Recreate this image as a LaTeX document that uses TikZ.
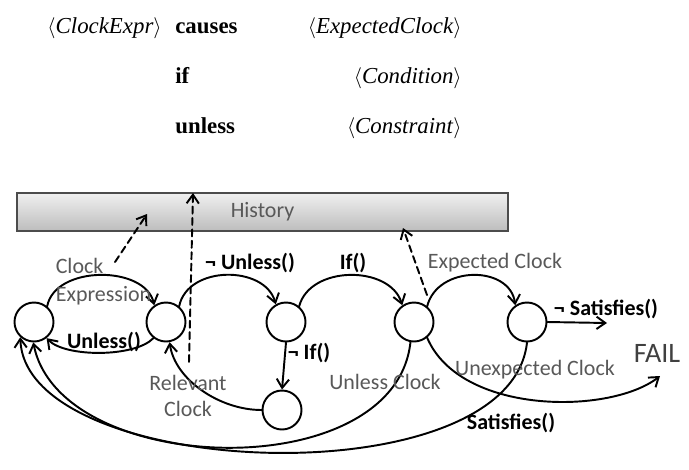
\documentclass[tikz,border=0pt]{standalone}
\usepackage{fontspec}
\setmainfont{Liberation Serif}
\newfontfamily\calib{Carlito}
\usetikzlibrary{arrows.meta}
\definecolor{lblGray}{rgb}{0.35,0.35,0.35}
\definecolor{barTop}{rgb}{0.94,0.94,0.94}
\definecolor{barBot}{rgb}{0.74,0.74,0.74}

\begin{document}
\begin{tikzpicture}[>={Straight Barb[length=5pt,width=7pt]}, line cap=round,
  state/.style={circle, draw, line width=1.1pt, minimum size=0.78cm, inner sep=0pt},
  trans/.style={->, line width=1.1pt},
  tohist/.style={->, line width=1.1pt, dash pattern=on 4pt off 2.5pt},
  lbl/.style={font=\calib\fontsize{12.5}{15}\selectfont, text=lblGray, inner sep=0pt},
  blbl/.style={font=\calib\bfseries\fontsize{12.5}{15}\selectfont, inner sep=0pt},
  hdr/.style={font=\fontsize{13}{15}\selectfont, inner sep=0pt},
  kw/.style={font=\fontsize{13}{15}\selectfont\bfseries, inner sep=0pt, anchor=base west}]
\useasboundingbox (0,0) rectangle (13.78,-9.38);
% Grammatik der Regel
\node[hdr, anchor=base east] (clockexpr) at (3.24,-0.66) {$\langle$\textit{ClockExpr}$\rangle$};
\node[kw] (causes) at (3.50,-0.66) {causes};
\node[hdr, anchor=base east] (expclock) at (9.24,-0.66) {$\langle$\textit{ExpectedClock}$\rangle$};
\node[kw] (kwif) at (3.50,-1.66) {if};
\node[hdr, anchor=base east] (condition) at (9.24,-1.66) {$\langle$\textit{Condition}$\rangle$};
\node[kw] (kwunless) at (3.50,-2.66) {unless};
\node[hdr, anchor=base east] (constraint) at (9.24,-2.66) {$\langle$\textit{Constraint}$\rangle$};
% Historie
\node[draw=black!70, line width=0.8pt, top color=barTop, bottom color=barBot,
  minimum width=9.82cm, minimum height=0.76cm, inner sep=0pt,
  font=\calib\fontsize{12.5}{15}\selectfont, text=lblGray] (history) at (5.25,-4.24) {History};
% Zustaende
\node[state] (s1) at (0.68,-6.44) {};
\node[state] (s2) at (3.32,-6.44) {};
\node[state] (s3) at (5.72,-6.44) {};
\node[state] (s4) at (5.64,-8.20) {};
\node[state] (s5) at (8.28,-6.44) {};
\node[state] (s6) at (10.54,-6.44) {};
\coordinate (failend) at (12.14,-6.46);
\coordinate (failup) at (13.20,-7.52);
% Uebergaenge
\draw[trans] (s1.50) .. controls (1.1,-5.3) and (2.9,-5.3) .. (s2.125);
\draw[trans] (s2.232) .. controls (2.7,-7.15) and (1.3,-7.15) .. (s1.308);
\draw[trans] (s2.50) .. controls (3.75,-5.3) and (5.3,-5.3) .. (s3.120);
\draw[trans] (s3.50) .. controls (6.2,-5.3) and (7.8,-5.3) .. (s5.125);
\draw[trans] (s5.50) .. controls (8.75,-5.3) and (10.2,-5.3) .. (s6.125);
\draw[trans] (s6.east) -- (failend);
\draw[trans] (s3.south) -- (s4.north);
\draw[trans] (s4.west) .. controls (4.4,-8.2) and (3.5,-7.6) .. (s2.280);
\draw[trans] (s5.310) .. controls (9.2,-8.3) and (12.2,-8.3) .. (failup);
\draw[trans] (s5.260) .. controls (7.9,-9.75) and (1.2,-9.55) .. (s1.268);
\draw[trans] (s6.270) .. controls (10.2,-10.0) and (0.5,-9.6) .. (s1.228);
% Eintraege in die Historie
\coordinate (ce) at (2.30,-5.24);
\coordinate (h1) at (2.94,-4.28);
\coordinate (rc) at (3.78,-7.24);
\coordinate (h2) at (3.86,-3.86);
\coordinate (ec) at (8.54,-5.90);
\coordinate (h3) at (8.06,-4.56);
\draw[tohist] (ce) -- (h1);
\draw[tohist] (rc) -- (h2);
\draw[tohist] (ec) -- (h3);
% Beschriftungen
\node[lbl, align=left] (lclkexpr) at (2.07,-5.64) {Clock\\[1pt]Expression};
\node[blbl] (lunless) at (2.08,-6.84) {Unless()};
\node[blbl] (lnunless) at (5.00,-5.27) {¬ Unless()};
\node[blbl] (lif) at (7.06,-5.26) {If()};
\node[lbl] (lexpclk) at (9.90,-5.26) {Expected Clock};
\node[blbl] (lnsat) at (12.12,-6.18) {¬ Satisfies()};
\node[font=\calib\fontsize{16}{18}\selectfont, text=black!75, inner sep=0pt] (fail) at (13.14,-7.06) {FAIL};
\node[lbl] (lunexp) at (10.70,-7.40) {Unexpected Clock};
\node[lbl] (lunlclk) at (7.70,-7.64) {Unless Clock};
\node[blbl] (lsat) at (10.22,-8.46) {Satisfies()};
\node[blbl] (lnif) at (6.18,-7.06) {¬ If()};
\node[lbl, align=center] (lrel) at (3.76,-7.92) {Relevant\\Clock};
\end{tikzpicture}
\end{document}
